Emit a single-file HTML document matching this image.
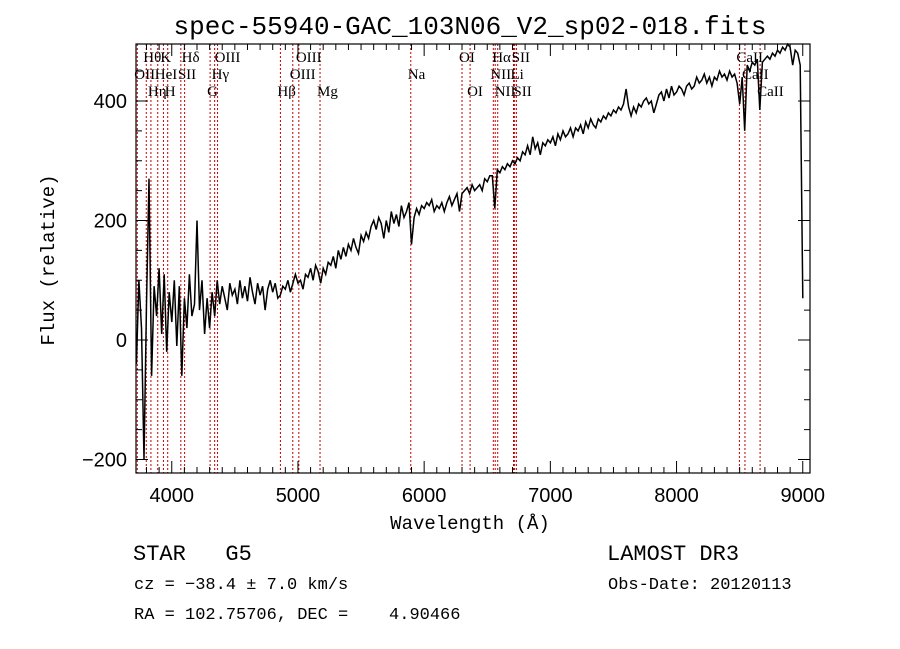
<!DOCTYPE html>
<html><head><meta charset="utf-8">
<style>
body{margin:0;background:#fff;width:900px;height:649px;overflow:hidden}
svg{display:block}
.mono{font-family:"Liberation Mono",monospace}
.sans{font-family:"Liberation Sans",sans-serif}
.serif{font-family:"Liberation Serif",serif}
</style></head><body>
<svg id="chart" width="900" height="649" viewBox="0 0 900 649" xmlns="http://www.w3.org/2000/svg">
<text class="mono" x="470" y="34" font-size="26" text-anchor="middle">spec-55940-GAC_103N06_V2_sp02-018.fits</text>
<g id="lines"></g>
<g id="labels"></g>
<path id="spec" fill="none" stroke="#000" stroke-width="1.5"/>
<g id="axes"></g>
<rect x="136" y="44" width="674" height="429" fill="none" stroke="#000" stroke-width="1.2"/>
<text class="mono" x="470" y="529" font-size="19" text-anchor="middle">Wavelength (Å)</text>
<text class="mono" font-size="19" text-anchor="middle" transform="translate(54,260) rotate(-90)">Flux (relative)</text>
<text class="mono" x="133" y="560" font-size="22" xml:space="preserve">STAR   G5</text>
<text class="mono" x="607" y="560" font-size="22">LAMOST DR3</text>
<text class="mono" x="134" y="589" font-size="17">cz = −38.4 ± 7.0 km/s</text>
<text class="mono" x="608" y="589" font-size="17">Obs-Date: 20120113</text>
<text class="mono" x="134" y="619" font-size="17" xml:space="preserve">RA = 102.75706, DEC =    4.90466</text>
</svg>
<script>
const wlStart = 3720;
const wlStep = 20;
const flux = [-40,100,20,-200,60,270,-60,90,40,120,10,110,-20,80,30,100,-10,90,-60,70,20,110,40,60,200,50,100,10,70,20,80,40,100,60,90,70,50,95,75,85,60,100,70,90,65,105,80,60,95,75,90,50,85,100,80,95,70,75,90,85,100,80,95,110,95,100,85,110,105,120,100,125,115,95,120,110,130,125,140,120,150,135,155,140,160,150,170,155,145,175,165,180,170,190,200,185,205,195,170,200,180,215,195,210,190,225,205,215,230,160,205,220,210,225,220,230,225,235,215,225,220,230,215,230,240,225,235,245,215,245,250,255,245,260,250,255,260,250,270,265,275,275,220,285,280,290,285,295,290,300,295,305,300,315,310,325,310,340,320,330,310,330,325,335,330,340,325,345,335,350,340,345,355,340,355,350,360,345,365,355,370,360,355,370,365,375,370,380,375,385,380,390,385,395,420,390,375,390,380,395,390,400,405,395,400,380,395,410,415,400,420,405,425,410,415,425,420,410,425,430,420,425,440,430,435,445,430,440,425,440,435,450,440,445,435,450,440,445,430,395,440,350,460,450,465,460,470,385,465,470,475,470,480,475,485,480,490,485,495,490,460,485,480,460,70];
const lineWl = [3727,3798,3835,3889,3934,3968,4072,4102,4304,4340,4363,4861,4959,5007,5175,5894,6300,6364,6548,6563,6583,6708,6717,6731,8498,8542,8662];
const lineLabels = ["OII","Hθ","Hη","HeI","K","H","SII","Hδ","G","Hγ","OIII","Hβ","OIII","OIII","Mg","Na","OI","OI","NII","Hα","NII","Li","SII","SII","CaII","CaII","CaII"];
const lineRows = [1,0,2,1,0,2,1,0,2,1,0,2,1,0,2,1,0,2,1,0,2,1,0,2,0,1,2];
const xTicks = [4000,5000,6000,7000,8000,9000];
const yTicks = [-200,0,200,400];

const X0=136,X1=810,Y0=44,Y1=473;
const xs = l => 137.3 + (l-3727)*0.1262;
const ys = f => 340 - f*0.5975;
const NS="http://www.w3.org/2000/svg";
function mk(tag, attrs, parent){const e=document.createElementNS(NS,tag);for(const k in attrs)e.setAttribute(k,attrs[k]);parent.appendChild(e);return e;}

let d="";
flux.forEach((f,i)=>{let y=Math.max(Y0,Math.min(Y1,ys(f)));d+=(i?"L":"M")+xs(wlStart+i*wlStep).toFixed(1)+","+y.toFixed(1);});
document.getElementById('spec').setAttribute('d',d);

const lg=document.getElementById('lines'), lb=document.getElementById('labels');
lineWl.forEach((w,i)=>{
  const x=xs(w);
  const ln=mk('line',{x1:x,x2:x,y1:Y0,y2:Y1,stroke:"#c00000","stroke-width":1,"stroke-dasharray":"2,2"},lg);
  
  
  const t=mk('text',{x:x-3,y:62+lineRows[i]*17,"font-size":15,"class":"serif"},lb);
  t.textContent=lineLabels[i];
  
  
});

const ax=document.getElementById('axes');
for(let l=3800;l<=9000;l+=100){
  const x=xs(l); if(x<X0||x>X1)continue;
  const major=l%1000===0, len=major?12:6;
  const t1=mk('line',{x1:x,x2:x,y1:Y1,y2:Y1-len,stroke:"#000","stroke-width":1},ax);
  
  
  const t2=mk('line',{x1:x,x2:x,y1:Y0,y2:Y0+len,stroke:"#000","stroke-width":1},ax);
  
  
}
xTicks.forEach(v=>{
  const t=mk('text',{x:xs(v),y:502,"font-size":20,"text-anchor":"middle","class":"sans"},ax);
  t.textContent=v;
  
  
});
for(let v=-200;v<=450;v+=50){
  const y=ys(v); if(y<Y0||y>Y1)continue;
  const major=v%200===0, len=major?12:6;
  const t1=mk('line',{x1:X0,x2:X0+len,y1:y,y2:y,stroke:"#000","stroke-width":1},ax);
  
  
  const t2=mk('line',{x1:X1,x2:X1-len,y1:y,y2:y,stroke:"#000","stroke-width":1},ax);
  
  
}
yTicks.forEach(v=>{
  const t=mk('text',{x:127,y:ys(v)+7,"font-size":20,"text-anchor":"end","class":"sans"},ax);
  t.textContent=v===-200?"−200":v;
  
  
});
</script>
</body></html>
